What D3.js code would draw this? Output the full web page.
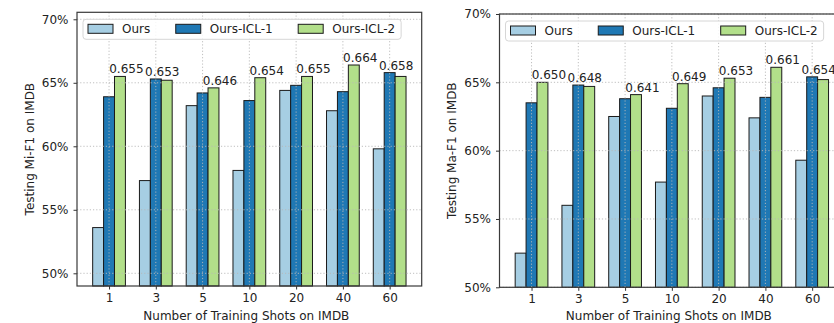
<!DOCTYPE html>
<html>
<head>
<meta charset="utf-8">
<script src="https://cdn.jsdelivr.net/npm/d3@7"></script>
<style>
  html, body { margin: 0; padding: 0; background: #fff; }
  svg { display: block; font-family: "DejaVu Sans", sans-serif; }
</style>
</head>
<body>
<svg id="chart" width="834" height="323"></svg>
<script>
// Training-shot settings shared by both panels
const shots = ["1", "3", "5", "10", "20", "40", "60"];
const seriesNames = ["Ours", "Ours-ICL-1", "Ours-ICL-2"];
const seriesColors = ["#a6cee3", "#1f78b4", "#b2df8a"];
const yTickValues = [0.50, 0.55, 0.60, 0.65, 0.70];

// Micro-F1 on IMDB
const miOurs = [0.536, 0.573, 0.632, 0.581, 0.644, 0.628, 0.598];
const miIcl1 = [0.639, 0.653, 0.642, 0.636, 0.648, 0.643, 0.658];
const miIcl2 = [0.655, 0.652, 0.646, 0.654, 0.655, 0.664, 0.655];

// Macro-F1 on IMDB
const maOurs = [0.525, 0.560, 0.625, 0.577, 0.640, 0.624, 0.593];
const maIcl1 = [0.635, 0.648, 0.638, 0.631, 0.646, 0.639, 0.654];
const maIcl2 = [0.650, 0.647, 0.641, 0.649, 0.653, 0.661, 0.652];

const panels = [
  { left: 77, top: 12.3, bottom: 286, yDomain: [0.49, 0.7055],
    yLabel: "Testing Mi-F1 on IMDB", yLabelX: 30,
    series: [miOurs, miIcl1, miIcl2] },
  { left: 499.5, top: 14, bottom: 287.3, yDomain: [0.50, 0.70],
    yLabel: "Testing Ma-F1 on IMDB", yLabelX: 452,
    series: [maOurs, maIcl1, maIcl2] }
];

const svg = d3.select("#chart");
const plotWidth = 344.7;
const barW = 0.7 / 3;            // width of one bar in category units
const pad = 0.05 * (shots.length - 1 + 3 * barW);

panels.forEach(p => {
  const g = svg.append("g");
  const x = d3.scaleLinear()
    .domain([-1.5 * barW - pad, shots.length - 1 + 1.5 * barW + pad])
    .range([p.left, p.left + plotWidth]);
  const y = d3.scaleLinear().domain(p.yDomain).range([p.bottom, p.top]);
  const bw = x(barW) - x(0);

  // bars
  p.series.forEach((vals, si) => {
    g.append("g").selectAll("rect")
      .data(vals)
      .join("rect")
      .attr("x", (d, i) => x(i + (si - 1) * barW) - bw / 2)
      .attr("y", d => y(d))
      .attr("width", bw)
      .attr("height", d => y(p.yDomain[0]) - y(d))
      .attr("fill", seriesColors[si])
      .attr("stroke", "#1a1a1a")
      .attr("stroke-width", 1);
  });

  // dotted grid drawn over the bars
  const grid = g.append("g")
    .attr("stroke", "#b8b8b8")
    .attr("stroke-width", 0.9)
    .attr("stroke-dasharray", "1.2,2");
  grid.selectAll(".gy").data(yTickValues).join("line")
    .attr("x1", x.range()[0]).attr("x2", x.range()[1])
    .attr("y1", d => y(d)).attr("y2", d => y(d));
  grid.selectAll(".gx").data(shots).join("line")
    .attr("x1", (d, i) => x(i)).attr("x2", (d, i) => x(i))
    .attr("y1", p.top).attr("y2", p.bottom);

  // value labels above the best bar of every group
  shots.forEach((s, i) => {
    const vals = p.series.map(v => v[i]);
    const best = d3.maxIndex(vals);
    g.append("text")
      .attr("x", x(i + (best - 1) * barW) + bw / 2 + 1)
      .attr("y", y(vals[best]) - 3)
      .attr("text-anchor", "middle")
      .attr("font-size", 12)
      .attr("fill", "#222")
      .text(d3.format(".3f")(vals[best]));
  });

  // axes
  const xAxis = d3.axisBottom(x)
    .tickValues(d3.range(shots.length))
    .tickFormat(i => shots[i])
    .tickSize(3.5).tickPadding(4);
  g.append("g")
    .attr("transform", `translate(0,${p.bottom})`)
    .call(xAxis)
    .call(a => a.select(".domain").remove())
    .call(a => a.selectAll("text").attr("font-size", 12).attr("fill", "#222").attr("font-family", "DejaVu Sans"))
    .call(a => a.selectAll("line").attr("stroke", "#333"));

  const yAxis = d3.axisLeft(y)
    .tickValues(yTickValues)
    .tickFormat(d3.format(".0%"))
    .tickSize(3.5).tickPadding(5);
  g.append("g")
    .attr("transform", `translate(${p.left},0)`)
    .call(yAxis)
    .call(a => a.select(".domain").remove())
    .call(a => a.selectAll("text").attr("font-size", 12).attr("fill", "#222").attr("font-family", "DejaVu Sans"))
    .call(a => a.selectAll("line").attr("stroke", "#333"));

  // frame
  g.append("rect")
    .attr("x", x.range()[0]).attr("y", p.top)
    .attr("width", plotWidth).attr("height", p.bottom - p.top)
    .attr("fill", "none").attr("stroke", "#3a3a3a").attr("stroke-width", 1.2);

  // axis titles
  g.append("text")
    .attr("x", x.range()[0] + plotWidth / 2 - 3)
    .attr("y", 320)
    .attr("text-anchor", "middle")
    .attr("font-size", 12).attr("fill", "#222")
    .text("Number of Training Shots on IMDB");
  g.append("text")
    .attr("transform", `translate(${p.yLabelX},${(p.top + p.bottom) / 2}) rotate(-90)`)
    .attr("dy", "0.35em")
    .attr("text-anchor", "middle")
    .attr("font-size", 12).attr("fill", "#222")
    .text(p.yLabel);

  // legend
  const lg = g.append("g").attr("transform", `translate(${p.left + 6},${p.top + 7})`);
  const box = lg.append("rect")
    .attr("rx", 3).attr("ry", 3)
    .attr("fill", "#fff").attr("fill-opacity", 0.85)
    .attr("stroke", "#d6d6d6").attr("stroke-width", 1);
  let cx = 5;
  seriesNames.forEach((name, si) => {
    lg.append("rect")
      .attr("x", cx).attr("y", 5)
      .attr("width", 25).attr("height", 9)
      .attr("fill", seriesColors[si])
      .attr("stroke", "#1a1a1a").attr("stroke-width", 1);
    const t = lg.append("text")
      .attr("x", cx + 34).attr("y", 14)
      .attr("font-size", 12).attr("fill", "#222")
      .text(name);
    cx += 34 + t.node().getComputedTextLength() + 25.5;
  });
  box.attr("x", 0).attr("y", 0)
    .attr("width", cx - 25.5 + 6).attr("height", 20);
});
</script>
</body>
</html>
